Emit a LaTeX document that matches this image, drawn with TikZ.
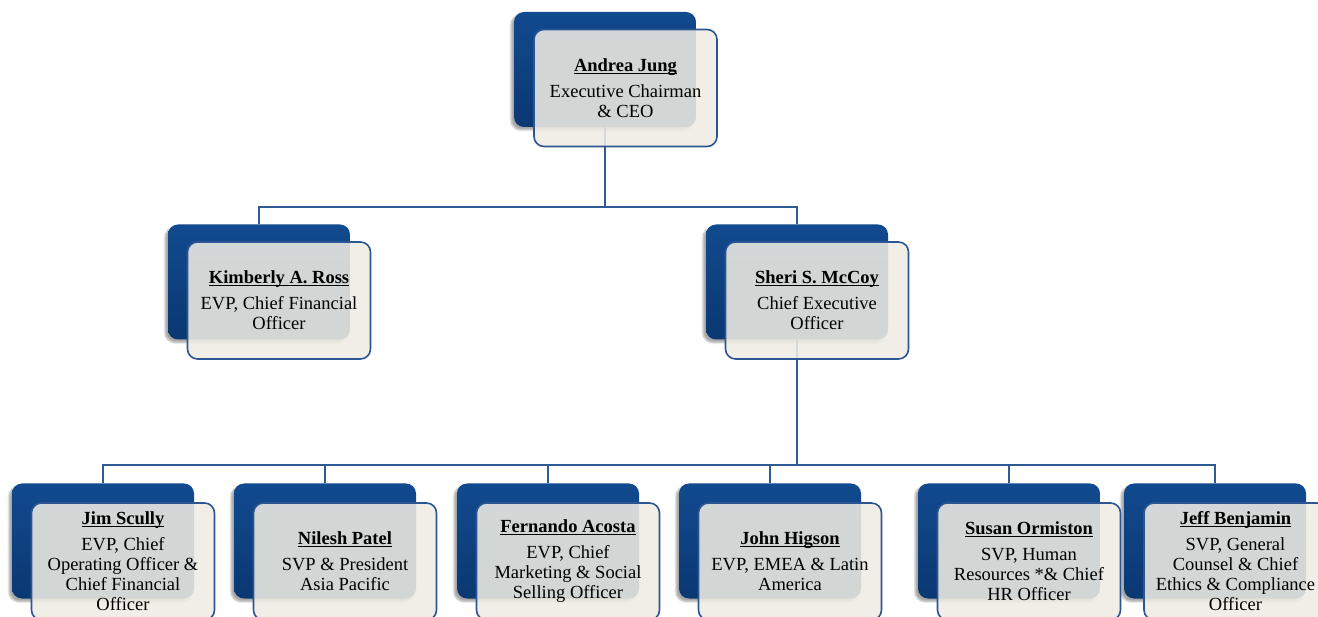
\documentclass[tikz,border=0pt]{standalone}
\usepackage{fontspec}
\setmainfont{Liberation Serif}
\usetikzlibrary{positioning,backgrounds,shadows.blur}
\definecolor{boxtop}{HTML}{124A8F}
\definecolor{boxbottom}{HTML}{0A3872}
\definecolor{framecol}{HTML}{2C5693}
\definecolor{cardfill}{HTML}{EEECE2}
\definecolor{linecol}{HTML}{2F5A96}
\tikzset{font=\fontsize{18.5}{20}\selectfont}
\tikzset{backbox/.style={rounded corners=10pt, minimum width=182pt,
    minimum height=115pt, top color=boxtop, bottom color=boxbottom,
    draw=none, blur shadow={shadow xshift=-3pt, shadow yshift=-3pt,
      shadow opacity=35, shadow blur steps=6}}}
\tikzset{frontbox/.style={rounded corners=10pt, minimum width=183pt,
    minimum height=117pt, draw=framecol, line width=1.6pt, fill=cardfill,
    fill opacity=.88, text opacity=1, align=center, text=black}}
\tikzset{orgline/.style={draw=linecol, line width=1.8pt}}
\newsavebox{\whobox}
\newcommand{\who}[1]{\sbox{\whobox}{\textbf{#1}}%
  \rlap{\rule[-2.4pt]{\wd\whobox}{1pt}}\usebox{\whobox}\\[6pt]}

\begin{document}
\begin{tikzpicture}[x=1pt,y=-1pt]
  \useasboundingbox (0,0) rectangle (1318,617);

  % back cards
  \node[backbox] (andreaB) at (605,69.5) {};
  \node[backbox] (kimberlyB) at (259,282) {};
  \node[backbox] (sheriB) at (797,282) {};
  \node[backbox] (jimB) at (103,541) {};
  \node[backbox] (nileshB) at (325,541) {};
  \node[backbox] (fernandoB) at (548,541) {};
  \node[backbox] (johnB) at (770,541) {};
  \node[backbox] (susanB) at (1009,541) {};
  \node[backbox] (jeffB) at (1215,541) {};

  % front cards
  \node[frontbox] (andrea) at ([xshift=20.5pt,yshift=-18.5pt]andreaB.center)
  {\who{Andrea Jung}Executive Chairman\\\& CEO};
  \node[frontbox] (kimberly) at ([xshift=20pt,yshift=-18.5pt]kimberlyB.center)
  {\who{Kimberly A. Ross}EVP, Chief Financial\\Officer};
  \node[frontbox] (sheri) at ([xshift=20pt,yshift=-18.5pt]sheriB.center)
  {\who{Sheri S. McCoy}Chief Executive\\Officer};
  \node[frontbox] (jim) at ([xshift=20pt,yshift=-20.5pt]jimB.center)
  {\who{Jim Scully}EVP, Chief\\Operating Officer \&\\Chief Financial\\Officer};
  \node[frontbox] (nilesh) at ([xshift=20pt,yshift=-20.5pt]nileshB.center)
  {\who{Nilesh Patel}SVP \& President\\Asia Pacific};
  \node[frontbox] (fernando) at ([xshift=20pt,yshift=-20.5pt]fernandoB.center)
  {\who{Fernando Acosta}EVP, Chief\\Marketing \& Social\\Selling Officer};
  \node[frontbox] (john) at ([xshift=20pt,yshift=-20.5pt]johnB.center)
  {\who{John Higson}EVP, EMEA \& Latin\\America};
  \node[frontbox] (susan) at ([xshift=20pt,yshift=-20.5pt]susanB.center)
  {\who{Susan Ormiston}SVP, Human\\Resources *\& Chief\\HR Officer};
  \node[frontbox] (jeff) at ([xshift=20.5pt,yshift=-20.5pt]jeffB.center)
  {\who{Jeff Benjamin}SVP, General\\Counsel \& Chief\\Ethics \& Compliance\\Officer};

  % connectors
  \coordinate (busA) at (605,207);
  \coordinate (busB) at (797,465);
  \begin{scope}[on background layer]
    \draw[orgline] (andreaB.south) -- (busA);
    \draw[orgline] (kimberlyB.north) |- (busA) -| (sheriB.north);
    \draw[orgline] (sheriB.south) -- (busB);
    \draw[orgline] (jimB.north) |- (busB) -| (jeffB.north);
    \foreach \n in {nileshB,fernandoB,johnB,susanB}
      \draw[orgline] (\n.north) -- (\n |- busB);
  \end{scope}
\end{tikzpicture}
\end{document}
